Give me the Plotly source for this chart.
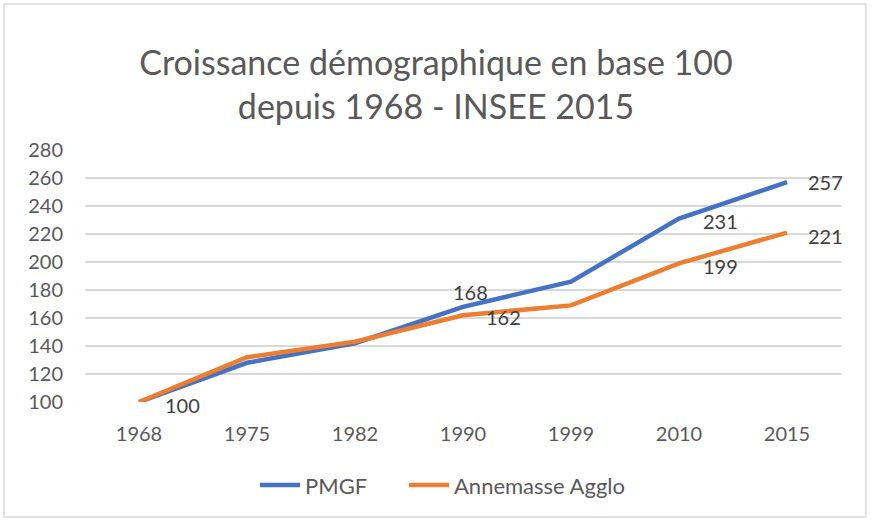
import plotly.graph_objects as go

years = ["1968", "1975", "1982", "1990", "1999", "2010", "2015"]
pmgf = [100, 128, 142, 168, 186, 231, 257]
annemasse = [100, 132, 143, 162, 169, 199, 221]
y_ticks = [100, 120, 140, 160, 180, 200, 220, 240, 260, 280]

# which points carry a data label, with the label offset (px) from the point
pmgf_labelled = {3: (7, 15), 5: (41, -2), 6: (38, 0)}
ann_labelled = {0: (43, -3), 3: (40, -2), 5: (41, -3), 6: (38, -3)}

FONT = "Lato"
GREY = "#595959"
DARK = "#404040"
BLUE = "#4472C4"
ORANGE = "#ED7D31"

fig = go.Figure()
fig.add_trace(go.Scatter(
    x=years, y=pmgf, name="PMGF", mode="lines",
    line=dict(color=BLUE, width=4.5), legend="legend",
))
fig.add_trace(go.Scatter(
    x=years, y=annemasse, name="Annemasse Agglo", mode="lines",
    line=dict(color=ORANGE, width=4.5), legend="legend2",
))

annotations = []
for series, labelled in ((pmgf, pmgf_labelled), (annemasse, ann_labelled)):
    for i, (dx, dy) in labelled.items():
        annotations.append(dict(
            x=i, y=series[i], xref="x", yref="y",  # category index on the x axis
            text=str(series[i]), showarrow=False,
            xanchor="center", yanchor="middle", xshift=dx, yshift=dy,
            font=dict(family=FONT, size=20, color=DARK),
        ))

legend_style = dict(
    orientation="h", xanchor="left", y=-0.33, yanchor="middle",
    font=dict(family=FONT, size=22, color=GREY), itemwidth=40,
    bgcolor="rgba(0,0,0,0)",
)

fig.update_layout(
    width=872, height=520,
    margin=dict(l=85, r=31, t=150, b=118, autoexpand=False),
    paper_bgcolor="white", plot_bgcolor="white",
    font=dict(family=FONT, color=GREY),
    title=dict(
        text="Croissance démographique en base 100<br>depuis 1968 - INSEE 2015",
        x=0.5, xref="container", xanchor="center",
        y=1 - 75 / 520, yref="container", yanchor="middle",
        font=dict(family=FONT, size=34, color=GREY),
    ),
    showlegend=True,
    legend=dict(x=(255 - 85) / 756, **legend_style),
    legend2=dict(x=(404 - 85) / 756, **legend_style),
    xaxis=dict(
        type="category", categoryorder="array", categoryarray=years,
        range=[-0.5, len(years) - 0.5],
        showgrid=False, showline=False, zeroline=False,
        tickfont=dict(family=FONT, size=20, color=GREY),
        ticks="", ticklabelstandoff=18, tickangle=0, automargin=False,
    ),
    yaxis=dict(
        range=[100, 280], tickvals=y_ticks,
        showgrid=True, gridcolor="#D9D9D9", gridwidth=1.5,
        zeroline=False, showline=False,
        tickfont=dict(family=FONT, size=20, color=GREY),
        ticks="", ticklabelstandoff=21, automargin=False,
    ),
    annotations=annotations,
    shapes=[dict(
        type="rect", xref="paper", yref="paper",
        x0=(4 - 85) / 756, x1=(866 - 85) / 756,
        y0=(402 - 517) / 252, y1=(402 - 4) / 252,
        line=dict(color="#D9D9D9", width=1.5), fillcolor="rgba(0,0,0,0)",
        layer="below",
    )],
)

fig.write_html("out.html", config={"displayModeBar": False},
               post_script="document.body.style.margin='0';")
